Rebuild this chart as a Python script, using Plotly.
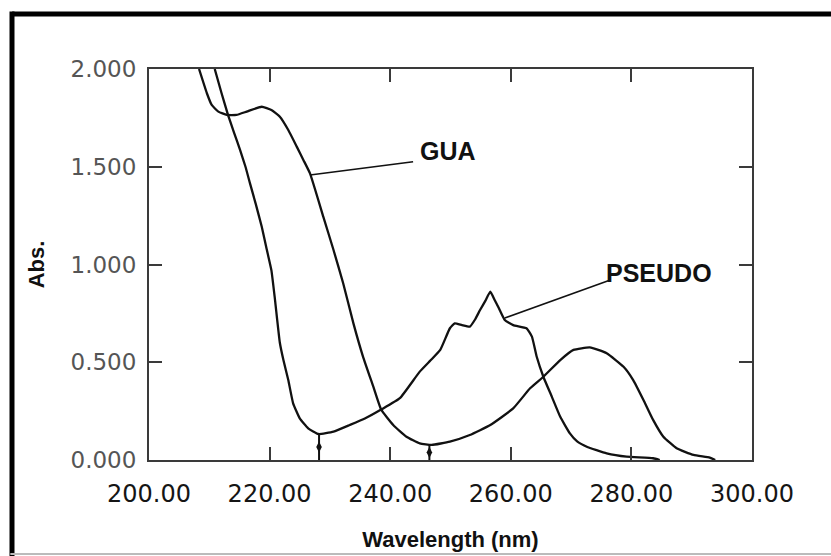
import plotly.graph_objects as go

# ---- data ----
pseudo_wl = [210.9, 212.0, 213.1, 214.1, 215.1, 216.0, 216.75, 217.7, 218.7, 219.5, 220.3, 220.9,
             221.7, 222.3, 223.1, 223.9, 225.0, 226.4, 228.1, 230.6, 233.3, 235.8, 238.5, 241.6,
             244.9, 246.7, 248.3, 249.9, 250.7, 251.9, 253.2, 254.1, 254.9, 255.8, 256.6, 257.3,
             257.9, 259.0, 260.4, 262.6, 263.5, 264.3, 265.4, 266.8, 268.2, 269.8, 271.0, 272.6,
             275.9, 279.2, 283.6, 284.7]
pseudo_abs = [2.0, 1.88, 1.765, 1.675, 1.586, 1.50, 1.415, 1.31, 1.193, 1.08, 0.97, 0.818,
              0.60, 0.51, 0.409, 0.29, 0.213, 0.162, 0.133, 0.145, 0.179, 0.212, 0.258, 0.316,
              0.452, 0.51, 0.563, 0.674, 0.699, 0.69, 0.682, 0.72, 0.767, 0.815, 0.861, 0.82,
              0.784, 0.716, 0.69, 0.674, 0.631, 0.528, 0.426, 0.324, 0.221, 0.136, 0.095, 0.068,
              0.034, 0.017, 0.009, 0.0]

gua_wl = [208.3, 209.6, 210.4, 211.5, 212.9, 214.5, 216.2, 218.7, 220.3, 221.7, 223.1, 224.5,
          225.6, 226.7, 228.9, 230.6, 232.2, 233.9, 235.5, 237.2, 238.5, 240.5, 242.7, 244.9,
          246.9, 249.9, 253.2, 256.6, 260.4, 263.2, 265.4, 268.2, 270.4, 273.1, 275.9, 278.7,
          280.3, 282.0, 283.6, 285.3, 287.5, 290.3, 293.0, 293.9]
gua_abs = [2.0, 1.876, 1.816, 1.782, 1.765, 1.765, 1.782, 1.807, 1.79, 1.756, 1.688, 1.603,
           1.535, 1.466, 1.245, 1.074, 0.904, 0.699, 0.528, 0.375, 0.258, 0.179, 0.119, 0.085,
           0.077, 0.094, 0.128, 0.179, 0.264, 0.367, 0.426, 0.511, 0.563, 0.576, 0.546, 0.477,
           0.409, 0.307, 0.205, 0.119, 0.06, 0.026, 0.012, 0.0]

# minima marked on the x axis
min_wl = [228.2, 246.5]
min_abs = [0.133, 0.077]

# labels: (name, curve point, line end, text centre)
labels = ["GUA", "PSEUDO"]
label_pt_wl = [226.7, 259.0]
label_pt_abs = [1.458, 0.726]
label_end_wl = [243.8, 276.5]
label_end_abs = [1.526, 0.921]
label_txt_wl = [249.6, 284.6]
label_txt_abs = [1.58, 0.957]

x_ticks = [200, 220, 240, 260, 280, 300]
y_ticks = [0.0, 0.5, 1.0, 1.5, 2.0]

LINE = "#111111"
AX = "#3a3a3a"

fig = go.Figure()
fig.add_trace(go.Scatter(x=pseudo_wl, y=pseudo_abs, mode="lines", name="PSEUDO",
                         line=dict(color=LINE, width=2.3, shape="spline", smoothing=0.4)))
fig.add_trace(go.Scatter(x=gua_wl, y=gua_abs, mode="lines", name="GUA",
                         line=dict(color=LINE, width=2.3, shape="spline", smoothing=0.4)))

for w, a in zip(min_wl, min_abs):
    fig.add_trace(go.Scatter(x=[w, w], y=[0, a], mode="lines", showlegend=False,
                             line=dict(color=LINE, width=2)))
    fig.add_trace(go.Scatter(x=[w], y=[a / 2], mode="markers", showlegend=False,
                             marker=dict(symbol="diamond-tall", size=8, color=LINE)))

for i, name in enumerate(labels):
    fig.add_shape(type="line", xref="x", yref="y",
                  x0=label_pt_wl[i], y0=label_pt_abs[i], x1=label_end_wl[i], y1=label_end_abs[i],
                  line=dict(color=LINE, width=1.6))
    fig.add_annotation(x=label_txt_wl[i], y=label_txt_abs[i], xref="x", yref="y", text=name,
                       showarrow=False,
                       font=dict(family="Liberation Sans", size=25, color="#111111", weight="bold"))

# outer frame (thick black on top and left, faint line at the bottom)
fig.add_shape(type="line", xref="paper", yref="paper", x0=-0.227, x1=1.15, y0=1.1407, y1=1.1407,
              line=dict(color="black", width=5))
fig.add_shape(type="line", xref="paper", yref="paper", x0=-0.2272, x1=-0.2272, y0=1.147, y1=-0.26,
              line=dict(color="black", width=5))
fig.add_shape(type="line", xref="paper", yref="paper", x0=-0.23, x1=1.15, y0=-0.2404, y1=-0.2404,
              line=dict(color="#bbbbbb", width=2))

fig.update_layout(
    width=831, height=556, autosize=False,
    margin=dict(l=149, r=79, t=69, b=96),
    paper_bgcolor="white", plot_bgcolor="white",
    showlegend=False,
    xaxis=dict(range=[200, 300], tickvals=x_ticks, tickformat=".2f", automargin=False,
               ticks="inside", ticklen=13, tickwidth=2, tickcolor=AX,
               showline=True, linecolor=AX, linewidth=2, mirror="ticks",
               showgrid=False, zeroline=False,
               tickfont=dict(family="DejaVu Sans", size=24, color="#151515"),
               ticklabelstandoff=11,
               title=dict(text="Wavelength (nm)", standoff=25,
                          font=dict(family="Liberation Sans", size=22, color="#111111", weight="bold"))),
    yaxis=dict(range=[0, 2], tickvals=y_ticks, tickformat=".3f", automargin=False,
               ticks="inside", ticklen=13, tickwidth=2, tickcolor=AX,
               showline=True, linecolor=AX, linewidth=2, mirror="ticks",
               showgrid=False, zeroline=False,
               tickfont=dict(family="DejaVu Sans", size=23, color="#555555"),
               ticklabelstandoff=6,
               title=dict(text="Abs.", standoff=20,
                          font=dict(family="Liberation Sans", size=22, color="#111111", weight="bold"))),
)

# remove the page's default body margin so the figure sits at the window's origin
page_css = ("document.documentElement.style.margin='0';document.body.style.margin='0';"
            "document.documentElement.style.overflow='hidden';document.body.style.overflow='hidden';")
fig.write_html("out.html", post_script=page_css, config={"displayModeBar": False})
